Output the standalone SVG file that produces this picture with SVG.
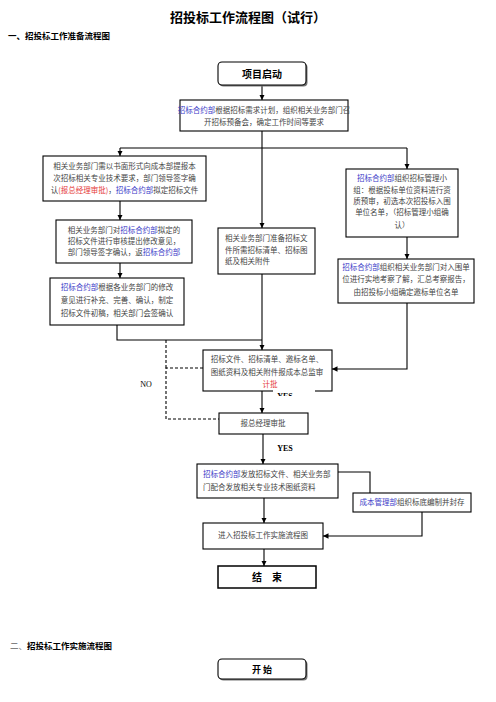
<svg xmlns="http://www.w3.org/2000/svg" width="496" height="702" viewBox="0 0 496 702">
<defs>
<style>
.bx{fill:#fff;stroke:#000;stroke-width:1.1}
.t{font-family:"Noto Sans CJK SC",sans-serif;font-size:7.5px;fill:#444}
.b{fill:#3c3cc8}
.r{fill:#e53a3a}
.h{font-family:"Noto Sans CJK SC",sans-serif;font-weight:bold;fill:#000}
.ln{fill:none;stroke:#000;stroke-width:1.1}
.dl{fill:none;stroke:#000;stroke-width:1.1;stroke-dasharray:3,2}
.lat{font-family:"Liberation Serif",serif;font-size:8px;fill:#000}
</style>
<marker id="ar" viewBox="0 0 10 10" refX="10" refY="5" markerWidth="5" markerHeight="5" orient="auto">
<path d="M0,0 L10,5 L0,10 z" fill="#000"/>
</marker>
<clipPath id="yc"><rect x="260" y="388" width="60" height="8"/></clipPath>
</defs>
<rect width="496" height="702" fill="#fff"/>
<text class="h" x="248" y="22" text-anchor="middle" font-size="13">招投标工作流程图（试行）</text>
<text class="h" x="8" y="39" font-size="8.5">一、招投标工作准备流程图</text>

<g id="connectors">
<line class="ln" x1="262" y1="85" x2="262" y2="100" marker-end="url(#ar)"/>
<line class="ln" x1="262" y1="131" x2="262" y2="228" marker-end="url(#ar)"/>
<line class="ln" x1="262" y1="274" x2="262" y2="350" marker-end="url(#ar)"/>
<polyline class="ln" points="120,148 407,148"/>
<line class="ln" x1="120" y1="148" x2="120" y2="156" marker-end="url(#ar)"/>
<line class="ln" x1="407" y1="148" x2="407" y2="169" marker-end="url(#ar)"/>
<line class="ln" x1="120" y1="201" x2="120" y2="220" marker-end="url(#ar)"/>
<line class="ln" x1="120" y1="263" x2="120" y2="278" marker-end="url(#ar)"/>
<polyline class="ln" points="117,325 117,340 262,340"/>
<line class="ln" x1="407" y1="237" x2="407" y2="259" marker-end="url(#ar)"/>
<polyline class="ln" points="407,303 407,369 332,369" marker-end="url(#ar)"/>
<polyline class="dl" points="203,368 166,368 166,419 219,419"/>
<line class="dl" x1="166" y1="340" x2="166" y2="368"/>
<line class="ln" x1="262" y1="391" x2="262" y2="413" marker-end="url(#ar)"/>
<line class="ln" x1="263" y1="434" x2="263" y2="464" marker-end="url(#ar)"/>
<polyline class="ln" points="338,472 370,472 370,493"/>
<line class="ln" x1="264" y1="498" x2="264" y2="523" marker-end="url(#ar)"/>
<polyline class="ln" points="422,512 422,536 323,536" marker-end="url(#ar)"/>
<line class="ln" x1="264" y1="549" x2="264" y2="566" marker-end="url(#ar)"/>
</g>

<g id="start">
<rect x="219.5" y="63.5" width="88" height="23" rx="4" fill="#777"/>
<rect x="218" y="62" width="88" height="23" rx="4" class="bx"/>
<text class="h" x="262" y="77.5" text-anchor="middle" font-size="10">项目启动</text>
</g>

<g id="n2">
<rect class="bx" x="180" y="100" width="168" height="31"/>
<text class="t" x="264" y="113" text-anchor="middle" font-size="7"><tspan class="b">招标合约部</tspan>根据招标需求计划，组织相关业务部门召</text>
<text class="t" x="264" y="125" text-anchor="middle" font-size="7">开招标预备会，确定工作时间等要求</text>
</g>

<g id="n3">
<rect class="bx" x="43" y="156" width="163" height="45"/>
<text class="t" x="124.5" y="169" text-anchor="middle">相关业务部门需以书面形式向成本部提报本</text>
<text class="t" x="124.5" y="181" text-anchor="middle">次招标相关专业技术要求，部门领导签字确</text>
<text class="t" x="124.5" y="193" text-anchor="middle">认<tspan class="r">(报总经理审批)</tspan>，<tspan class="b">招标合约部</tspan>拟定招标文件</text>
</g>

<g id="n4">
<rect class="bx" x="56" y="220" width="136" height="43"/>
<text class="t" x="124" y="233" text-anchor="middle">相关业务部门对<tspan class="b">招标合约部</tspan>拟定的</text>
<text class="t" x="124" y="244" text-anchor="middle">招标文件进行审核提出修改意见，</text>
<text class="t" x="124" y="255" text-anchor="middle">部门领导签字确认，返<tspan class="b">招标合约部</tspan></text>
</g>

<g id="n5">
<rect class="bx" x="50" y="278" width="134" height="47"/>
<text class="t" x="117" y="290" text-anchor="middle"><tspan class="b">招标合约部</tspan>根据各业务部门的修改</text>
<text class="t" x="117" y="303" text-anchor="middle">意见进行补充、完善、确认，制定</text>
<text class="t" x="117" y="316" text-anchor="middle">招标文件初稿，相关部门会签确认</text>
</g>

<g id="nm">
<rect class="bx" x="218" y="228" width="97" height="46"/>
<text class="t" x="225" y="241">相关业务部门准备招标文</text>
<text class="t" x="225" y="253">件所需招标清单、招标图</text>
<text class="t" x="225" y="264">纸及相关附件</text>
</g>

<g id="r1">
<rect class="bx" x="346" y="169" width="112" height="68"/>
<text class="t" x="402" y="181" text-anchor="middle"><tspan class="b">招标合约部</tspan>组织招标管理小</text>
<text class="t" x="402" y="193" text-anchor="middle">组：根据投标单位资料进行资</text>
<text class="t" x="402" y="204" text-anchor="middle">质预审，初选本次招投标入围</text>
<text class="t" x="402" y="215" text-anchor="middle">单位名单，（招标管理小组确</text>
<text class="t" x="402" y="228" text-anchor="middle">认）</text>
</g>

<g id="r2">
<rect class="bx" x="338" y="259" width="136" height="44"/>
<text class="t" x="406" y="270" text-anchor="middle" font-size="7.2"><tspan class="b">招标合约部</tspan>组织相关业务部门对入围单</text>
<text class="t" x="406" y="282" text-anchor="middle" font-size="7.2">位进行实地考察了解，汇总考察报告，</text>
<text class="t" x="406" y="295" text-anchor="middle" font-size="7.2">由招投标小组确定邀标单位名单</text>
</g>

<g id="n6">
<rect class="bx" x="203" y="350" width="129" height="41"/>
<rect x="273" y="389" width="42" height="4" fill="#fff"/>
<text class="t" x="267" y="362" text-anchor="middle" font-size="7.3">招标文件、招标清单、邀标名单、</text>
<text class="t" x="267" y="375" text-anchor="middle" font-size="7.3">图纸资料及相关附件报成本总监审</text>
<text class="t r" x="270" y="387" text-anchor="middle" font-size="7.3">计批</text>
<text class="lat" x="285" y="399" text-anchor="middle" font-weight="bold" clip-path="url(#yc)">YES</text>
</g>

<text class="lat" x="146" y="387" text-anchor="middle">NO</text>

<g id="n7">
<rect class="bx" x="219" y="413" width="89" height="21"/>
<text class="t" x="263" y="426" text-anchor="middle" font-size="7">报总经理审批</text>
</g>
<text class="lat" x="285" y="451" text-anchor="middle" font-weight="bold" font-size="7.5">YES</text>

<g id="n8">
<rect class="bx" x="197" y="464" width="141" height="34"/>
<text class="t" x="203" y="477"><tspan class="b">招标合约部</tspan>发放招标文件、相关业务部</text>
<text class="t" x="203" y="490">门配合发放相关专业技术图纸资料</text>
</g>

<g id="n9">
<rect class="bx" x="353" y="493" width="118" height="19"/>
<text class="t" x="412" y="505" text-anchor="middle" font-size="7.2"><tspan class="b">成本管理部</tspan>组织标底编制并封存</text>
</g>

<g id="n10">
<rect class="bx" x="203" y="523" width="120" height="26"/>
<text class="t" x="263" y="538" text-anchor="middle">进入招投标工作实施流程图</text>
</g>

<g id="end">
<rect x="218" y="566" width="98" height="22" fill="#fff" stroke="#000" stroke-width="1.5"/>
<text class="h" x="267" y="581" text-anchor="middle" font-size="10">结　束</text>
</g>

<text class="h" x="10" y="649" font-size="8.5"><tspan font-weight="normal" fill="#666">二、</tspan>招投标工作实施流程图</text>

<g id="start2">
<rect x="219.5" y="660.5" width="88" height="20" rx="4" fill="#777"/>
<rect x="218" y="659" width="88" height="20" rx="4" class="bx"/>
<text class="h" x="262" y="672.5" text-anchor="middle" font-size="9">开 始</text>
</g>
</svg>
